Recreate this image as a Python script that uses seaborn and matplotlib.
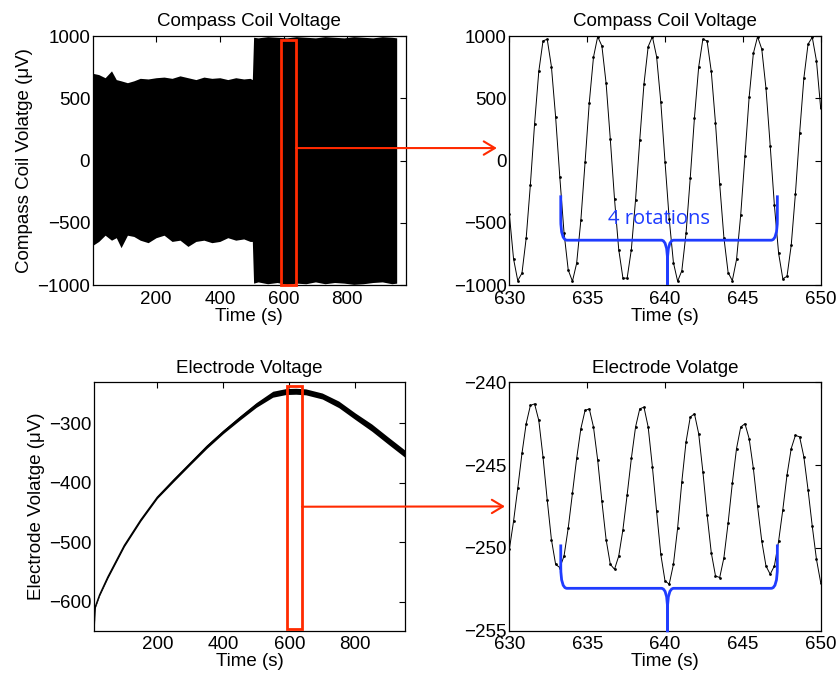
import matplotlib
matplotlib.use("Agg")
import matplotlib.pyplot as plt
from matplotlib.patches import Rectangle, ConnectionPatch, PathPatch
from matplotlib.path import Path
import pandas as pd
import seaborn as sns

# ---- overview of the compass coil signal (envelope of the dense oscillation)
coil_time = [2, 20, 40, 60, 75, 90, 110, 130, 150, 175, 200, 225, 250, 275, 300,
             325, 350, 375, 400, 425, 450, 475, 495, 502,
             506, 520, 550, 580, 610, 640, 670, 700, 730, 760, 790, 820, 850,
             880, 910, 940, 955]
coil_upper = [700, 690, 665, 720, 650, 640, 625, 640, 660, 655, 665, 670, 660, 680,
              665, 650, 670, 660, 665, 650, 665, 655, 660, 650,
              990, 985, 995, 990, 985, 995, 990, 985, 995, 990, 985, 995, 990,
              985, 995, 990, 985]
coil_lower = [-680, -650, -600, -640, -620, -700, -600, -610, -640, -660, -620, -600,
              -650, -640, -690, -650, -640, -660, -650, -620, -640, -630, -650, -650,
              -985, -975, -990, -980, -995, -985, -990, -975, -990, -980, -985, -995,
              -990, -980, -975, -990, -985]

# ---- overview of the electrode signal (centre line and half width of the wiggle)
elec_time = [8, 10, 12, 25, 50, 100, 150, 200, 250, 300, 350, 400, 450, 500, 550,
             590, 620, 650, 700, 750, 800, 850, 900, 951]
elec_center = [-648, -625, -608, -588, -558, -505, -462, -424, -395, -367, -339,
               -314, -291, -269, -251, -246.5, -246, -247, -254, -268, -288, -307,
               -329, -351]
elec_halfwidth = [1, 1, 1.5, 1.5, 2, 2, 2, 2, 2.5, 2.5, 3, 3, 3.5, 4, 5, 5, 5, 5,
                  5, 5.5, 5.5, 6, 6, 6]

# ---- zoomed samples 630-650 s
zoom_time = [630.00, 630.27, 630.54, 630.81, 631.08, 631.35, 631.62, 631.89, 632.16,
             632.43, 632.70, 632.97, 633.24, 633.51, 633.78, 634.05, 634.32, 634.59,
             634.86, 635.13, 635.40, 635.67, 635.94, 636.21, 636.48, 636.75, 637.02,
             637.29, 637.56, 637.83, 638.10, 638.37, 638.64, 638.91, 639.18, 639.45,
             639.72, 639.99, 640.26, 640.53, 640.80, 641.07, 641.34, 641.61, 641.88,
             642.15, 642.42, 642.69, 642.96, 643.23, 643.50, 643.77, 644.04, 644.31,
             644.58, 644.85, 645.12, 645.39, 645.66, 645.93, 646.20, 646.47, 646.74,
             647.01, 647.28, 647.55, 647.82, 648.09, 648.36, 648.63, 648.90, 649.17,
             649.44, 649.71, 649.98]
zoom_coil = [-430, -790, -965, -905, -625, -195, 295, 715, 960, 975, 755, 350, -135,
             -580, -880, -970, -825, -480, -15, 465, 830, 995, 920, 620, 170, -310,
             -715, -945, -945, -715, -315, 165, 615, 915, 995, 835, 470, -10, -470,
             -820, -970, -885, -585, -140, 345, 750, 975, 960, 715, 300, -190, -620,
             -900, -965, -795, -435, 35, 510, 860, 995, 895, 580, 120, -360, -745,
             -950, -930, -680, -265, 220, 660, 935, 990, 800, 420]
zoom_elec = [-250.1, -248.4, -246.4, -244.3, -242.5, -241.4, -241.3, -242.3, -244.5,
             -247.1, -249.5, -251.0, -251.2, -250.5, -248.8, -246.7, -244.6, -242.8,
             -241.7, -241.6, -242.7, -244.7, -247.2, -249.5, -251.0, -251.3, -250.5,
             -248.9, -246.8, -244.6, -242.7, -241.6, -241.5, -242.7, -245.1, -247.8,
             -250.4, -252.0, -252.2, -251.0, -248.8, -246.0, -243.6, -242.1, -241.9,
             -243.1, -245.4, -248.0, -250.3, -251.7, -251.8, -250.6, -248.5, -246.1,
             -244.0, -242.7, -242.5, -243.4, -245.2, -247.5, -249.6, -251.1, -251.6,
             -251.1, -249.6, -247.7, -245.6, -244.0, -243.2, -243.3, -244.5, -246.5,
             -248.7, -250.7, -252.1]

# ---- annotation geometry
coil_box = (592, 639, -1000, 964)
elec_box = (592, 638.5, -645, -237)
coil_arrow_y = 100
elec_arrow_y = (-440, -247.5)
brace_x = (633.3, 647.2, 640.15)

RED = "#ff2a00"
BLUE = "#1f3cff"
FS = 13.5

sns.set_theme(style="white")
plt.rcParams["font.family"] = ["Liberation Sans", "DejaVu Sans"]
plt.rcParams.update({
    "font.size": FS,
    "axes.titlesize": FS,
    "axes.labelsize": FS,
    "xtick.labelsize": FS,
    "ytick.labelsize": FS,
    "text.color": "black",
    "axes.labelcolor": "black",
    "axes.edgecolor": "black",
    "axes.linewidth": 0.9,
    "xtick.color": "black",
    "ytick.color": "black",
})

fig = plt.figure(figsize=(8.38, 6.82), dpi=100)
ax_tl = fig.add_axes([0.111, 0.5821, 0.373, 0.3651])
ax_tr = fig.add_axes([0.6078, 0.5821, 0.3719, 0.3651])
ax_bl = fig.add_axes([0.1122, 0.0755, 0.3711, 0.3639])
ax_br = fig.add_axes([0.6078, 0.0755, 0.3719, 0.3639])

# top left: dense coil voltage
ax_tl.fill_between(coil_time, coil_lower, coil_upper, color="black", lw=0)
ax_tl.set_xlim(2, 983)
ax_tl.set_ylim(-1000, 1000)
ax_tl.set_xticks([200, 400, 600, 800])
ax_tl.set_yticks([-1000, -500, 0, 500, 1000])
ax_tl.set_title("Compass Coil Voltage", pad=7)
ax_tl.set_xlabel("Time (s)", labelpad=0)
ax_tl.set_ylabel("Compass Coil Volatge (\u03bcV)", labelpad=3)

# bottom left: electrode voltage
lo = [c - h for c, h in zip(elec_center, elec_halfwidth)]
hi = [c + h for c, h in zip(elec_center, elec_halfwidth)]
ax_bl.fill_between(elec_time, lo, hi, color="black", lw=0)
sns.lineplot(x=elec_time, y=elec_center, ax=ax_bl, color="black", lw=1.0,
             sort=False, errorbar=None)
ax_bl.set_xlim(8, 951)
ax_bl.set_ylim(-648, -231)
ax_bl.set_xticks([200, 400, 600, 800])
ax_bl.set_yticks([-600, -500, -400, -300])
ax_bl.set_title("Electrode Voltage", pad=7)
ax_bl.set_xlabel("Time (s)", labelpad=0)
ax_bl.set_ylabel("Electrode Volatge (\u03bcV)", labelpad=3)

# zoomed panels
zoom_df = pd.DataFrame({"time": zoom_time, "coil": zoom_coil, "elec": zoom_elec})
for ax, col in ((ax_tr, "coil"), (ax_br, "elec")):
    sns.lineplot(data=zoom_df, x="time", y=col, ax=ax, color="black", lw=0.7,
                 marker=".", markersize=4, markeredgewidth=0, sort=False,
                 errorbar=None)
    ax.set_xlim(630, 650)
    ax.set_xticks([630, 635, 640, 645, 650])
    ax.set_xlabel("Time (s)", labelpad=0)
    ax.set_ylabel("")
ax_tr.set_ylim(-1000, 1000)
ax_tr.set_yticks([-1000, -500, 0, 500, 1000])
ax_tr.set_title("Compass Coil Voltage", pad=7)
ax_br.set_ylim(-255, -240)
ax_br.set_yticks([-255, -250, -245, -240])
ax_br.set_title("Electrode Volatge", pad=7)

for ax in (ax_tl, ax_tr, ax_bl, ax_br):
    ax.tick_params(direction="in", top=True, right=True, length=4, width=0.8,
                   labelsize=FS)
    ax.tick_params(axis="x", pad=4)
    ax.tick_params(axis="y", pad=2)
    for sp in ax.spines.values():
        sp.set_visible(True)
        sp.set_color("black")

# red zoom boxes and arrows
for ax, box in ((ax_tl, coil_box), (ax_bl, elec_box)):
    x0, x1, y0, y1 = box
    ax.add_patch(Rectangle((x0, y0), x1 - x0, y1 - y0, fill=False,
                           edgecolor=RED, lw=2, clip_on=False, zorder=5))

con = ConnectionPatch(xyA=(coil_box[1], coil_arrow_y), coordsA=ax_tl.transData,
                      xyB=(-0.04, coil_arrow_y), coordsB=ax_tr.get_yaxis_transform(),
                      arrowstyle="->,head_length=0.5,head_width=0.3",
                      mutation_scale=16, color=RED, lw=1.5)
fig.add_artist(con)
con = ConnectionPatch(xyA=(elec_box[1], elec_arrow_y[0]), coordsA=ax_bl.transData,
                      xyB=(-0.014, elec_arrow_y[1]), coordsB=ax_br.get_yaxis_transform(),
                      arrowstyle="->,head_length=0.5,head_width=0.3",
                      mutation_scale=16, color=RED, lw=1.5)
fig.add_artist(con)


def draw_brace(ax, y_top, y_bar, y_tip, dx, dy):
    x0, x1, xm = brace_x
    for xe, s in ((x0, 1), (x1, -1)):
        verts = [(xe, y_top), (xe, y_bar + dy), (xe, y_bar), (xe + s * dx, y_bar),
                 (xm - s * dx, y_bar), (xm, y_bar), (xm, y_bar - dy), (xm, y_tip)]
        codes = [Path.MOVETO, Path.LINETO, Path.CURVE3, Path.CURVE3, Path.LINETO,
                 Path.CURVE3, Path.CURVE3, Path.LINETO]
        ax.add_patch(PathPatch(Path(verts, codes), fill=False, edgecolor=BLUE,
                               lw=2.0, clip_on=False, zorder=6))


draw_brace(ax_tr, -280, -640, -1000, 0.4, 170)
draw_brace(ax_br, -249.8, -252.45, -255.1, 0.4, 1.3)
ax_tr.text(639.6, -470, "4 rotations", color=BLUE, ha="center", va="center",
           fontsize=14.5, family=["Open Sans", "DejaVu Sans"])

fig.savefig("out.png", dpi=100)
